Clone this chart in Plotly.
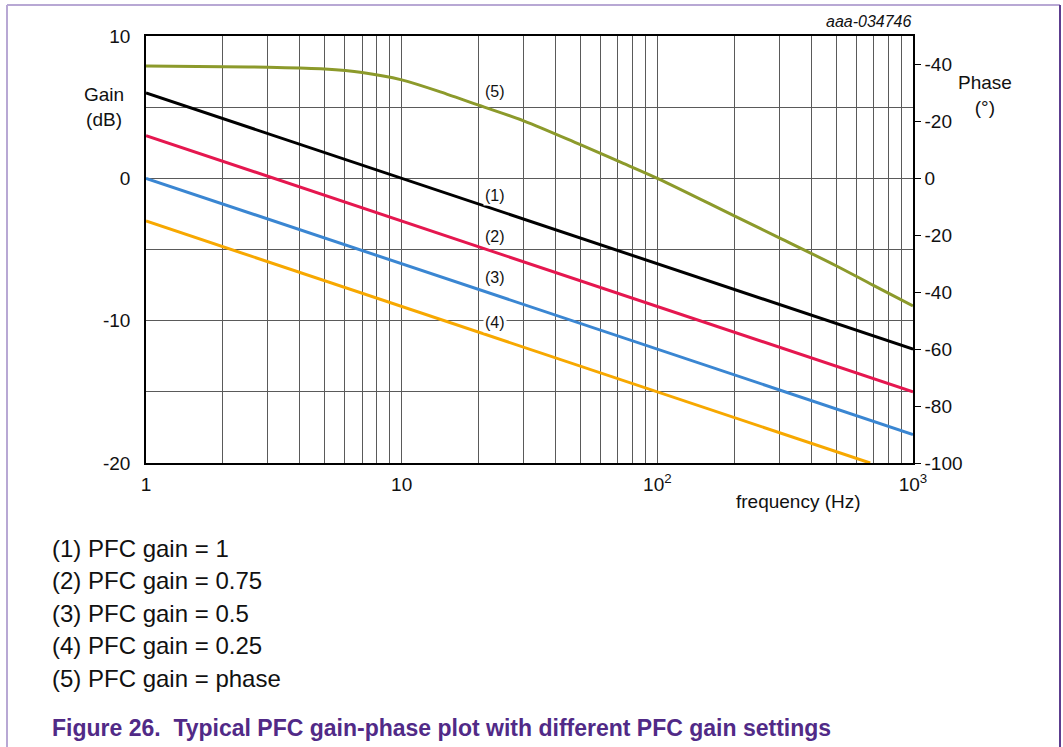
import plotly.graph_objects as go
import math

# ---- data ----
freq_lines = [1, 10, 100, 1000]
gain_1 = [6, 0, -6, -12]          # PFC gain = 1
gain_2 = [3, -3, -9, -15]         # PFC gain = 0.75
gain_3 = [0, -6, -12, -18]        # PFC gain = 0.5
gain_4_freq = [1, 10, 100, 680]
gain_4 = [-3, -9, -15, -20]       # PFC gain = 0.25

phase_freq = [1, 2, 3, 5, 7, 10, 15, 20, 30, 50, 70, 100, 200, 300, 500, 700, 1000]
phase_deg = [39.5, 39.2, 39.0, 38.4, 37.2, 34.6, 29.6, 25.7, 20.2, 11.8, 6.1, 0.0,
             -13.2, -20.9, -30.7, -37.6, -44.8]

x_tickvals = [1, 10, 100, 1000]
x_ticktext = ["1", "10", "10<sup>2</sup>", "10<sup>3</sup>"]
y_tickvals = [-20, -15, -10, -5, 0, 5, 10]
y_ticktext = ["-20", "", "-10", "", "0", "", "10"]
y2_tickvals = [40, 20, 0, -20, -40, -60, -80, -100]
y2_ticktext = ["-40", "-20", "0", "-20", "-40", "-60", "-80", "-100"]

curve_labels = ["(1)", "(2)", "(3)", "(4)", "(5)"]
label_freq = [23.2, 23.2, 23.2, 23.2, 23.2]
label_gain = [-1.2, -4.1, -7.0, -10.1, 6.1]

legend_lines = ["(1) PFC gain = 1", "(2) PFC gain = 0.75", "(3) PFC gain = 0.5",
                "(4) PFC gain = 0.25", "(5) PFC gain = phase"]
caption = "Figure 26.  Typical PFC gain-phase plot with different PFC gain settings"

# ---- layout geometry (pixels) ----
W, H = 1063, 747
L, R, T, B = 146, 913, 36, 463
PW, PH = R - L, B - T

def px(x):
    return (x - L) / PW

def py(y):
    return (B - y) / PH

FONT = "Liberation Sans, Arial, sans-serif"
GRID = "#5a5a5a"
PURPLE = "#512a87"

minor_vals = [m * d for d in (1, 10, 100) for m in range(2, 10)]

fig = go.Figure()
fig.add_trace(go.Scatter(x=freq_lines, y=gain_1, mode="lines", line=dict(color="#000000", width=3)))
fig.add_trace(go.Scatter(x=freq_lines, y=gain_2, mode="lines", line=dict(color="#e5174f", width=3)))
fig.add_trace(go.Scatter(x=freq_lines, y=gain_3, mode="lines", line=dict(color="#3a86d2", width=3)))
fig.add_trace(go.Scatter(x=gain_4_freq, y=gain_4, mode="lines", line=dict(color="#f7a800", width=3)))
fig.add_trace(go.Scatter(x=phase_freq, y=phase_deg, mode="lines", yaxis="y2",
                         line=dict(color="#8c9a2b", width=3, shape="spline", smoothing=1.0)))

fig.update_layout(
    width=W, height=H,
    margin=dict(l=L, r=W - R, t=T, b=H - B, pad=0),
    paper_bgcolor="white", plot_bgcolor="white",
    showlegend=False,
    font=dict(family=FONT, size=19, color="#111"),
    xaxis=dict(type="log", range=[0, 3], tickvals=x_tickvals, ticktext=x_ticktext,
               showgrid=True, gridcolor=GRID, gridwidth=1,
               minor=dict(tickvals=minor_vals, showgrid=True, gridcolor=GRID, gridwidth=1, ticks=""),
               showline=True, linecolor="black", linewidth=1.5, mirror=True,
               ticks="", ticklabelstandoff=3, zeroline=False),
    yaxis=dict(range=[-20, 10], tickvals=y_tickvals, ticktext=y_ticktext,
               showgrid=True, gridcolor=GRID, gridwidth=1, zeroline=False,
               showline=True, linecolor="black", linewidth=1.5, ticks="",
               ticklabelstandoff=10),
    yaxis2=dict(range=[-100, 50], overlaying="y", side="right",
                tickvals=y2_tickvals, ticktext=y2_ticktext, showgrid=False, zeroline=False,
                showline=True, linecolor="black", linewidth=1.5,
                ticks="outside", ticklen=6, tickcolor="black", tickwidth=1),
)

# curve labels (data coordinates)
for t, f, g in zip(curve_labels, label_freq, label_gain):
    fig.add_annotation(x=math.log10(f), y=g, xref="x", yref="y", text=t, showarrow=False,
                       xanchor="center", yanchor="middle",
                       font=dict(size=16, color="#111"), bgcolor="white", borderpad=1)

def paper_text(x, y, text, size, anchor="center", color="#111"):
    fig.add_annotation(x=px(x), y=py(y), xref="paper", yref="paper", text=text,
                       showarrow=False, xanchor=anchor, yanchor="middle", align="center",
                       font=dict(size=size, color=color))

# axis titles
paper_text(104, 107, "Gain<br>(dB)", 19)
paper_text(985, 95, "Phase<br>(°)", 19)
paper_text(798, 501, "frequency (Hz)", 19)
paper_text(914, 22, "<i>aaa-034746</i>", 16, anchor="right")

# legend lines below chart
for t, yy in zip(legend_lines, [548, 581, 613, 645, 678]):
    paper_text(50, yy, t, 24, anchor="left")

paper_text(50, 728, "<b>" + caption + "</b>", 23, anchor="left", color=PURPLE)

# frame lines
fig.add_shape(type="line", xref="paper", yref="paper", x0=px(7), x1=px(1060), y0=py(5), y1=py(5),
              line=dict(color="#b8a8d4", width=2))
fig.add_shape(type="line", xref="paper", yref="paper", x0=px(7), x1=px(7), y0=py(5), y1=py(747),
              line=dict(color="#b8a8d4", width=2))
fig.add_shape(type="line", xref="paper", yref="paper", x0=px(1060), x1=px(1060), y0=py(5), y1=py(747),
              line=dict(color="#5c3d8f", width=2))

fig.write_html("out.html", config={"displayModeBar": False},
               post_script="document.body.style.margin='0';")
